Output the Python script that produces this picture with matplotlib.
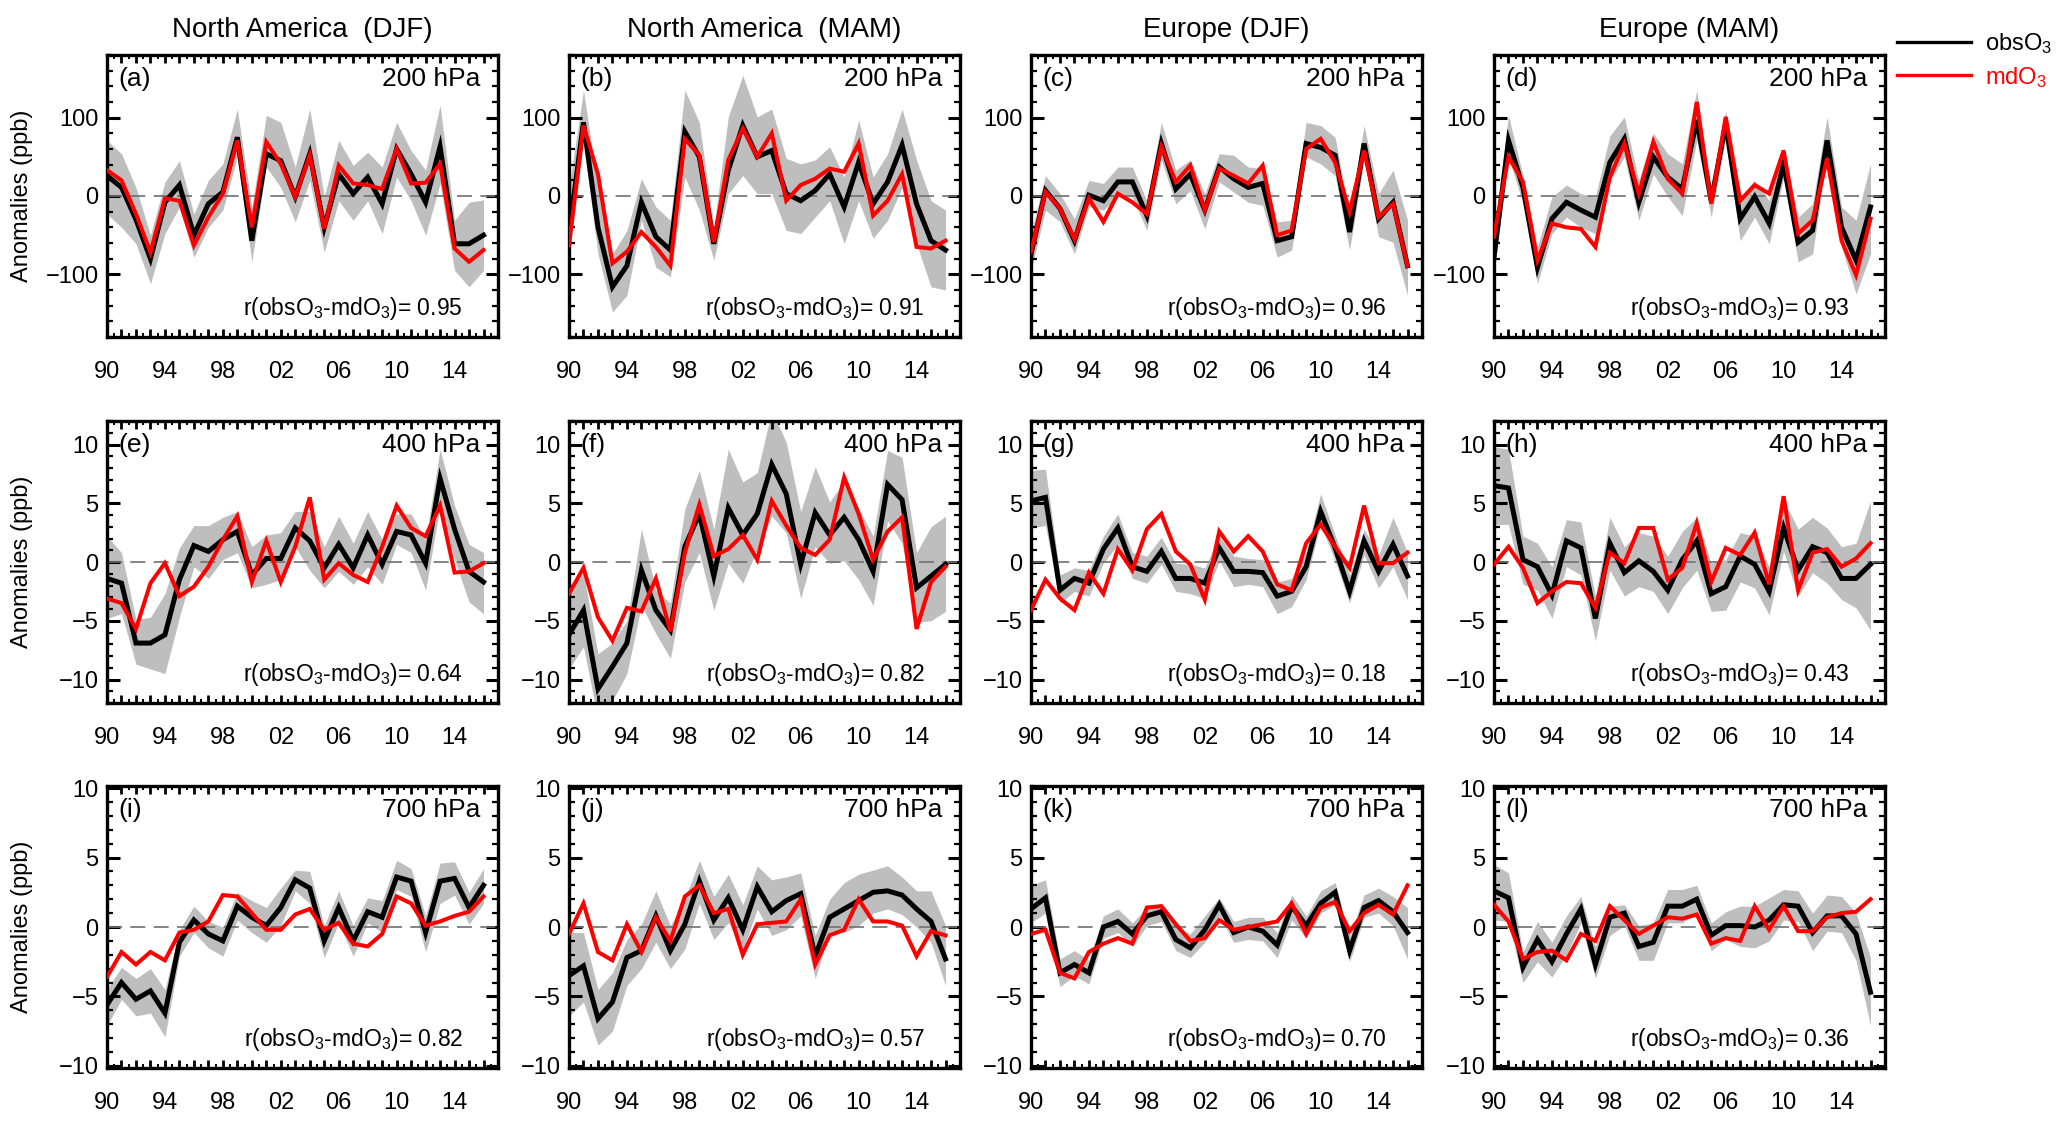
import numpy as np
import matplotlib
matplotlib.use("Agg")
import matplotlib.pyplot as plt
from matplotlib.lines import Line2D
from matplotlib.ticker import MultipleLocator, AutoMinorLocator

plt.rcParams['font.family'] = ['Liberation Sans', 'DejaVu Sans']
plt.rcParams['mathtext.fontset'] = 'custom'
plt.rcParams['mathtext.rm'] = 'Liberation Sans'
plt.rcParams['mathtext.it'] = 'Liberation Sans:italic'

years = np.arange(1990, 2017)

col_titles = ["North America  (DJF)", "North America  (MAM)", "Europe (DJF)", "Europe (MAM)"]
levels = ["200 hPa", "400 hPa", "700 hPa"]
letters = list("abcdefghijkl")
corrs = [0.95, 0.91, 0.96, 0.93, 0.64, 0.82, 0.18, 0.43, 0.82, 0.57, 0.70, 0.36]

# ---- 200 hPa ----
obs_a = [26, 11, -30, -80, -8, 14, -50, -10, 5, 75, -57, 54, 45, -1, 54, -40, 28, 3, 24, -10, 60, 28, -8, 63, -61, -61, -50]
md_a = [33, 20, -23, -72, -3, -6, -63, -27, 3, 71, -40, 69, 41, -1, 52, -42, 39, 16, 14, 9, 60, 16, 17, 41, -67, -84, -69]
hi_a = [71, 54, 11, -50, 18, 45, -23, 20, 41, 111, -14, 103, 94, 37, 111, -1, 71, 39, 56, 37, 94, 58, 33, 116, -31, -8, -5]
lo_a = [-23, -40, -61, -112, -48, -14, -78, -40, -18, 50, -84, 37, 11, -33, 20, -72, -6, -31, -6, -48, 24, -6, -50, 16, -95, -116, -95]

obs_b = [-48, 94, -40, -116, -89, -8, -52, -69, 82, 50, -61, 33, 90, 50, 58, 3, -6, 7, 28, -14, 43, -10, 18, 65, -10, -57, -69]
md_b = [-63, 90, 28, -86, -71, -46, -65, -89, 73, 52, -59, 46, 86, 50, 80, -6, 14, 22, 35, 31, 67, -25, -6, 28, -65, -67, -57]
hi_b = [10, 135, 11, -74, -44, 22, -14, -31, 135, 94, -40, 101, 154, 101, 111, 48, 41, 46, 63, 24, 97, 24, 54, 111, 46, -6, -18]
lo_b = [-80, 67, -74, -148, -127, -31, -91, -103, 24, -18, -82, 3, 26, 3, 3, -44, -48, -27, -6, -61, -6, -54, -31, 11, -61, -116, -120]

obs_c = [-74, 7, -16, -57, 1, -6, 18, 18, -25, 67, 9, 28, -18, 37, 22, 11, 16, -57, -52, 67, 62, 52, -46, 67, -29, -8, -89]
md_c = [-71, 5, -16, -55, -3, -33, 3, -8, -23, 63, 18, 39, -18, 35, 26, 16, 39, -50, -44, 60, 73, 43, -20, 58, -27, -10, -89]
hi_c = [-48, 26, 3, -29, 20, 16, 37, 37, -6, 94, 33, 46, 3, 54, 52, 37, 35, -33, -31, 94, 90, 75, -23, 90, 3, 33, -31]
lo_c = [-95, -18, -33, -74, -14, -18, -1, -1, -44, 46, -10, 7, -42, 18, 5, -8, -12, -78, -69, 50, 41, 26, -69, 46, -52, -59, -127]

obs_d = [-78, 71, 11, -91, -29, -8, -18, -27, 43, 73, -8, 50, 24, 9, 97, -6, 92, -29, -1, -35, 41, -59, -44, 71, -40, -82, -14]
md_d = [-52, 50, 18, -82, -35, -40, -42, -65, 24, 67, 3, 69, 22, 3, 120, -10, 101, -6, 14, 3, 58, -48, -31, 48, -57, -101, -29]
hi_d = [-48, 103, 26, -65, -1, 14, 3, -1, 77, 101, 20, 80, 54, 41, 135, 11, 109, -1, 20, -6, 63, -27, -10, 101, -14, -31, 41]
lo_d = [-99, 50, -10, -112, -48, -27, -40, -48, 18, 50, -31, 28, -1, -25, 71, -27, 73, -57, -27, -61, 24, -84, -74, 50, -65, -125, -74]

# ---- 400 hPa ----
obs_e = [-1.4, -1.8, -6.9, -6.9, -6.2, -1.5, 1.4, 0.9, 1.9, 2.6, -1.1, 0.3, 0.3, 2.9, 1.8, -0.5, 1.5, -0.5, 2.3, -0.2, 2.6, 2.3, -0.1, 7.1, 2.8, -0.8, -1.7]
md_e = [-3.1, -3.5, -5.7, -1.8, -0.1, -2.9, -2.1, -0.4, 1.9, 3.9, -1.7, 1.8, -1.7, 1.3, 5.5, -1.5, -0.1, -1.1, -1.7, 1.3, 4.8, 2.9, 2.2, 4.8, -0.9, -0.8, -0.1]
hi_e = [2.2, 0.8, -4.9, -4.7, -2.7, 1.2, 3.1, 3.1, 3.8, 4.3, 1.3, 2.3, 2.5, 4.3, 4.3, 1.3, 3.9, 1.6, 4.3, 1.9, 4.1, 4.1, 1.9, 9.6, 4.8, 1.5, 0.8]
lo_e = [-4.8, -4.4, -8.7, -9.1, -9.5, -4.7, -0.4, -1.4, 0.2, 0.8, -2.2, -1.9, -1.5, 1.3, -0.7, -2.2, -0.8, -1.9, -0.4, -1.9, 1.5, 0.8, -2.4, 4.8, 0.2, -3.4, -4.4]

obs_f = [-6.2, -4.1, -10.8, -8.9, -6.9, -0.7, -4.1, -5.8, 1.3, 4.1, -1.2, 4.6, 2.3, 4.1, 8.3, 5.8, -0.2, 4.2, 2.3, 3.8, 1.9, -0.8, 6.6, 5.3, -2.2, -1.2, -0.2]
md_f = [-2.7, -0.5, -4.7, -6.7, -3.9, -4.2, -1.4, -5.9, 0.8, 4.9, 0.5, 1.1, 2.3, 0.2, 5.2, 3.1, 1.2, 0.6, 1.9, 7.2, 4.1, 0.2, 2.6, 3.8, -5.7, -1.7, -0.4]
hi_f = [-2.7, -0.9, -7.8, -6.9, -5.0, 2.8, -2.4, -3.5, 4.5, 7.8, 2.8, 9.6, 6.8, 7.6, 12.9, 10.2, 4.3, 8.1, 5.1, 6.9, 4.6, 2.2, 9.5, 8.9, 0.8, 3.0, 3.9]
lo_f = [-9.1, -7.2, -13.4, -11.8, -9.5, -3.7, -6.1, -8.2, -1.7, 0.8, -4.1, -0.1, -1.8, 1.1, 3.9, 2.5, -3.1, 1.3, -0.1, 0.1, -1.5, -3.7, 3.5, 1.6, -5.1, -5.0, -4.2]

obs_g = [5.2, 5.5, -2.4, -1.4, -1.8, 1.1, 2.9, -0.4, -0.8, 0.9, -1.4, -1.4, -1.8, 1.2, -0.8, -0.8, -0.9, -2.9, -2.5, -0.4, 4.3, 1.2, -2.5, 1.8, -0.8, 1.5, -1.2]
md_g = [-4.1, -1.5, -3.1, -4.1, -0.9, -2.7, 1.1, -0.7, 2.8, 4.1, 0.9, -0.2, -3.2, 2.6, 0.9, 2.2, 0.9, -1.9, -2.4, 1.6, 3.2, 1.3, -0.5, 4.8, -0.1, -0.1, 0.8]
hi_g = [7.8, 7.9, -1.1, -0.5, -0.7, 2.2, 4.1, 0.8, 0.5, 2.1, -0.1, -0.2, -0.5, 2.2, 0.5, 0.3, 0.2, -1.7, -1.4, 0.9, 5.8, 2.3, -1.1, 2.8, 0.6, 3.8, 0.8]
lo_g = [2.9, 3.1, -3.5, -2.5, -2.9, -0.1, 1.5, -1.4, -1.8, -0.2, -2.5, -2.7, -3.1, 0.1, -2.1, -1.9, -2.1, -4.4, -3.8, -1.5, 3.2, 0.1, -3.5, 0.6, -2.2, -0.4, -3.2]

obs_h = [6.5, 6.3, 0.2, -0.4, -2.8, 1.8, 1.2, -4.8, 1.6, -0.9, 0.1, -0.8, -2.4, 0.2, 1.8, -2.7, -2.1, 0.5, -0.2, -2.5, 2.9, -0.7, 1.3, 0.8, -1.4, -1.4, -0.2]
md_h = [-0.2, 1.3, -0.5, -3.5, -2.5, -1.7, -1.8, -3.9, 0.8, -0.1, 2.9, 2.9, -1.5, -0.5, 3.3, -1.7, 1.2, 0.6, 2.5, -1.9, 5.6, -2.4, 0.8, 1.1, -0.4, 0.3, 1.6]
hi_h = [9.8, 9.6, 2.2, 1.6, -0.4, 3.6, 3.4, -2.9, 3.8, 1.3, 2.5, 2.2, 0.5, 2.6, 3.8, -0.1, 0.2, 2.5, 2.2, -0.4, 5.3, 2.8, 3.8, 2.9, 1.3, 1.6, 5.2]
lo_h = [3.2, 3.2, -1.9, -2.4, -4.8, -0.4, -1.1, -6.7, -0.7, -2.9, -2.1, -2.5, -4.4, -2.2, -0.7, -4.2, -4.1, -1.7, -2.2, -4.5, 0.9, -2.9, -0.9, -1.8, -3.2, -3.9, -5.8]

# ---- 700 hPa ----
obs_i = [-5.6, -4.0, -5.2, -4.6, -6.2, -1.1, 0.5, -0.5, -1.0, 1.5, 0.7, 0.1, 1.4, 3.4, 2.8, -1.0, 1.4, -1.0, 1.1, 0.7, 3.6, 3.3, -0.4, 3.3, 3.5, 1.4, 3.0]
md_i = [-3.6, -1.8, -2.7, -1.8, -2.4, -0.4, -0.2, 0.4, 2.3, 2.2, 1.0, -0.2, -0.2, 0.9, 1.3, -0.2, 0.3, -1.2, -1.4, -0.5, 2.2, 1.7, 0.1, 0.4, 0.8, 1.1, 2.2]
hi_i = [-4.5, -2.9, -3.7, -3.0, -4.5, -0.2, 1.5, 0.4, 0.0, 2.5, 1.9, 1.4, 2.8, 4.1, 4.0, 0.1, 2.6, 0.1, 2.1, 1.9, 4.8, 4.2, 0.8, 4.6, 4.7, 2.5, 4.2]
lo_i = [-7.1, -5.2, -6.4, -6.2, -7.9, -2.1, -0.4, -1.5, -2.1, 0.5, -0.4, -1.1, 0.1, 2.6, 1.7, -2.2, 0.3, -2.1, 0.3, -0.4, 2.7, 2.2, -1.8, 1.7, 2.3, 0.2, 1.7]

obs_j = [-3.5, -2.8, -6.6, -5.4, -2.2, -1.7, 0.8, -1.7, 0.2, 3.3, 0.5, 2.1, -0.2, 2.9, 1.1, 1.9, 2.4, -2.1, 0.7, 1.3, 1.9, 2.5, 2.6, 2.3, 1.3, 0.4, -2.3]
md_j = [-0.5, 1.7, -1.8, -2.4, 0.2, -1.8, 0.7, -1.0, 2.2, 3.0, 1.0, 1.3, -2.0, 0.2, 0.3, 0.4, 2.0, -2.7, -0.6, -0.2, 2.0, 0.4, 0.4, 0.1, -2.1, -0.3, -0.6]
hi_j = [-0.4, -0.4, -4.5, -3.3, -0.9, 0.2, 2.6, 0.1, 2.0, 4.8, 2.2, 3.8, 1.6, 4.4, 3.4, 3.6, 3.9, -0.6, 2.0, 3.2, 3.8, 4.1, 4.4, 3.6, 2.6, 2.6, 0.1]
lo_j = [-6.4, -5.4, -8.5, -7.5, -4.2, -3.0, -1.1, -3.0, -1.6, 1.7, -0.9, 0.3, -1.7, 1.3, -0.6, -0.2, 0.8, -3.7, -0.4, -0.4, 0.1, 1.0, 1.3, 0.9, 0.0, -1.1, -4.2]

obs_k = [1.3, 2.1, -3.3, -2.7, -3.3, 0.0, 0.4, -0.5, 0.8, 1.1, -0.9, -1.5, -0.2, 1.6, -0.4, 0.0, -0.3, -1.3, 1.5, 0.1, 1.7, 2.5, -1.7, 1.4, 1.9, 1.1, -0.4]
md_k = [-0.5, -0.2, -3.3, -3.7, -1.8, -1.2, -0.8, -1.2, 1.4, 1.5, 0.2, -1.0, -0.8, 0.5, -0.2, 0.0, 0.2, 0.4, 1.7, -0.5, 1.4, 1.8, -0.3, 1.0, 1.6, 0.9, 3.0]
hi_k = [3.0, 3.4, -2.3, -1.7, -2.4, 0.8, 1.3, 0.3, 1.4, 1.7, 0.0, -0.5, 0.8, 2.1, 0.4, 0.7, 0.7, -0.4, 2.3, 0.8, 2.6, 3.2, -0.6, 2.3, 2.8, 2.2, 1.4]
lo_k = [0.3, 1.0, -4.3, -3.5, -4.1, -0.8, -0.4, -1.4, 0.1, 0.4, -1.7, -2.2, -1.1, 0.8, -1.1, -0.9, -1.0, -2.2, 0.5, -0.8, 1.0, 1.6, -2.5, 0.7, 1.0, 0.1, -2.3]

obs_l = [2.6, 2.1, -2.9, -0.9, -2.5, -0.5, 1.3, -2.7, 0.7, 1.0, -1.4, -1.1, 1.5, 1.5, 2.0, -0.6, 0.1, 0.1, 0.0, 0.5, 1.6, 1.5, -0.4, 0.8, 0.8, -0.5, -4.7]
md_l = [1.6, 0.4, -2.3, -1.8, -1.7, -2.4, -0.5, -1.0, 1.5, 0.5, -0.5, 0.1, 0.7, 0.6, 0.9, -1.2, -0.8, -1.0, 1.5, -0.2, 1.5, -0.3, -0.3, 0.7, 1.0, 1.1, 2.0]
hi_l = [4.5, 3.9, -1.8, 0.4, -1.1, 0.8, 2.2, -1.4, 1.5, 1.6, 0.1, 0.3, 2.7, 2.7, 3.0, 0.3, 1.1, 1.5, 1.5, 2.1, 2.7, 2.6, 1.0, 2.3, 2.2, 1.0, -2.2]
lo_l = [0.5, 0.4, -4.0, -2.5, -3.6, -2.0, 0.3, -3.7, -0.6, 0.1, -2.4, -2.4, 0.3, 0.3, 1.0, -1.7, -0.9, -1.4, -1.5, -1.0, 0.5, 0.4, -1.7, -0.3, -0.4, -2.4, -7.1]

panels = [
    (obs_a, md_a, lo_a, hi_a), (obs_b, md_b, lo_b, hi_b), (obs_c, md_c, lo_c, hi_c), (obs_d, md_d, lo_d, hi_d),
    (obs_e, md_e, lo_e, hi_e), (obs_f, md_f, lo_f, hi_f), (obs_g, md_g, lo_g, hi_g), (obs_h, md_h, lo_h, hi_h),
    (obs_i, md_i, lo_i, hi_i), (obs_j, md_j, lo_j, hi_j), (obs_k, md_k, lo_k, hi_k), (obs_l, md_l, lo_l, hi_l),
]

# axes layout in pixels (figure is 2067 x 1131)
W, H = 2067, 1131
lefts = [107, 569, 1031, 1494]
tops = [55, 421, 786]
aw, ah = 391, 282
ylims = [180, 12, 10.15]

fig = plt.figure(figsize=(W / 100, H / 100), dpi=100)

for k, (obs, md, lo, hi) in enumerate(panels):
    r, c = divmod(k, 4)
    ax = fig.add_axes([lefts[c] / W, 1 - (tops[r] + ah) / H, aw / W, ah / H])
    ax.fill_between(years, lo, hi, color='#bebebe', linewidth=0, zorder=1)
    ax.axhline(0, color='#707070', lw=1.2, dashes=(9, 5), zorder=2)
    ax.plot(years, obs, color='black', lw=3.6, zorder=3, solid_joinstyle='miter')
    ax.plot(years, md, color='#ff0000', lw=2.9, zorder=4, solid_joinstyle='miter')

    ax.set_xlim(1990, 2017)
    ax.set_ylim(-ylims[r], ylims[r])
    ax.set_xticks(years)
    ax.set_xticklabels([f"{y % 100:02d}" if (y - 1990) % 4 == 0 else "" for y in years])
    ax.xaxis.set_minor_locator(AutoMinorLocator(2))
    if r == 0:
        ax.set_yticks([-100, 0, 100])
        ax.yaxis.set_minor_locator(MultipleLocator(20))
    else:
        ax.set_yticks([-10, -5, 0, 5, 10])
        ax.yaxis.set_minor_locator(MultipleLocator(1))

    ax.tick_params(which='both', direction='in', top=True, right=True, labelsize=17)
    ax.tick_params(axis='y', which='major', length=9, width=2.2, pad=6)
    ax.tick_params(axis='y', which='minor', length=4, width=1.6)
    ax.tick_params(axis='x', which='major', length=6, width=2.0, pad=17)
    ax.tick_params(axis='x', which='minor', length=3, width=1.4)
    for sp in ax.spines.values():
        sp.set_linewidth(2.4)

    ax.text(0.03, 0.915, f"({letters[k]})", transform=ax.transAxes, fontsize=19, va='center', ha='left')
    ax.text(0.955, 0.915, levels[r], transform=ax.transAxes, fontsize=19, va='center', ha='right')
    ax.text(0.91, 0.10, f"r(obsO$_3$-mdO$_3$)= {corrs[k]:.2f}", transform=ax.transAxes,
            fontsize=16.5, va='center', ha='right')

    if r == 0:
        ax.set_title(col_titles[c], fontsize=20, pad=13)
    if c == 0:
        ax.set_ylabel("Anomalies (ppb)", fontsize=17)
        ax.yaxis.set_label_coords(-0.19, 0.5)

handles = [Line2D([], [], color='black', lw=2.4), Line2D([], [], color='#ff0000', lw=2.4)]
fig.legend(handles, ["obsO$_3$", "mdO$_3$"], loc='upper left', bbox_to_anchor=(1888 / W, 1 - 22 / H),
           frameon=False, fontsize=17, handlelength=3.1, handletextpad=0.6, labelspacing=0.35,
           labelcolor=['black', '#ff0000'], borderaxespad=0)

fig.savefig("out.png", dpi=100)
